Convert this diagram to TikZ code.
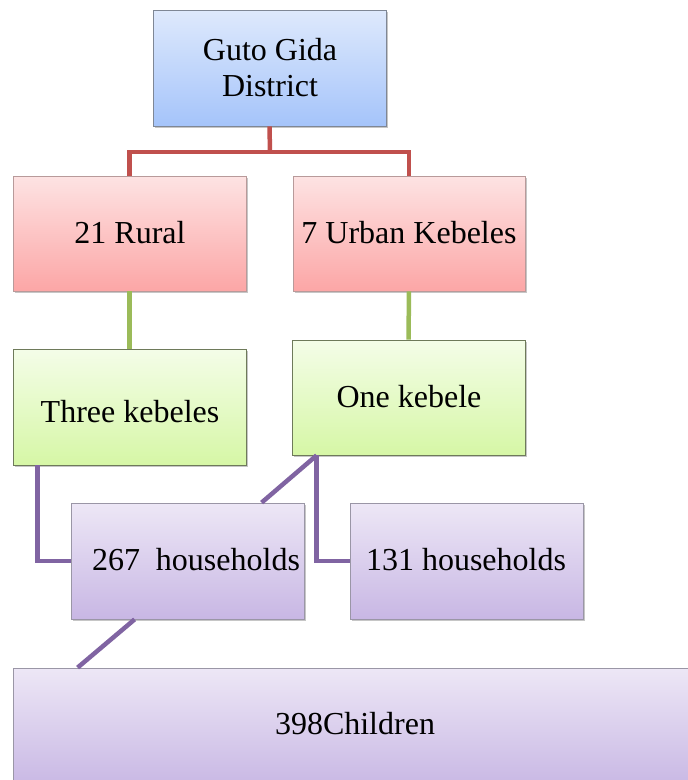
\documentclass[tikz,border=0pt]{standalone}
\usepackage{fontspec}
\setmainfont{Liberation Serif}
\usetikzlibrary{shadows}
\definecolor{blueT}{HTML}{DEE9FC}
\definecolor{blueB}{HTML}{A5C4FA}
\definecolor{blueD}{HTML}{7F8795}
\definecolor{pinkT}{HTML}{FDE3E3}
\definecolor{pinkB}{HTML}{FCA6A6}
\definecolor{pinkD}{HTML}{B89A9A}
\definecolor{greenT}{HTML}{F4FDE8}
\definecolor{greenB}{HTML}{D6F7A6}
\definecolor{greenD}{HTML}{6E7A5A}
\definecolor{purpT}{HTML}{EDE7F6}
\definecolor{purpB}{HTML}{C8B7E4}
\definecolor{purpD}{HTML}{9A96A6}
\definecolor{lnRed}{HTML}{C0504D}
\definecolor{lnGreen}{HTML}{9BBB59}
\definecolor{lnPurp}{HTML}{8064A2}
\tikzset{
  box/.style={rectangle, inner sep=0pt, line width=0.8pt, align=center,
    font=\fontsize{32}{36}\selectfont,
    drop shadow={shadow xshift=1.5pt, shadow yshift=-1.5pt, opacity=0.45, fill=gray}},
  bluebox/.style={box, draw=blueD, top color=blueT, bottom color=blueB},
  pinkbox/.style={box, draw=pinkD, top color=pinkT, bottom color=pinkB},
  greenbox/.style={box, draw=greenD, top color=greenT, bottom color=greenB},
  purpbox/.style={box, draw=purpD, top color=purpT, bottom color=purpB},
  lab/.style={font=\fontsize{32}{36}\selectfont, align=center, inner sep=0pt},
  conn/.style={line width=4.5pt},
}
\begin{document}
\begin{tikzpicture}[x=1pt,y=-1pt]
\useasboundingbox (0,0) rectangle (688,780);
% boxes
\node[bluebox, minimum width=233pt, minimum height=116pt] (top) at (269.5,68) {};
\node[lab] at (270,68) {Guto Gida\\District};
\node[pinkbox, minimum width=233pt, minimum height=115pt] (rural) at (129.5,233.5) {};
\node[lab] at (130,233) {21 Rural};
\node[pinkbox, minimum width=232pt, minimum height=115pt] (urban) at (409,233.5) {};
\node[lab] at (409,233) {7 Urban Kebeles};
\node[greenbox, minimum width=233pt, minimum height=116pt] (three) at (129.5,407) {};
\node[lab] at (130,412) {Three kebeles};
\node[greenbox, minimum width=233pt, minimum height=115pt] (one) at (408.5,397.5) {};
\node[lab] at (409,397) {One kebele};
\node[purpbox, minimum width=233pt, minimum height=116pt] (h267) at (187.5,561) {};
\node[lab] at (196,560) {267\ \ households};
\node[purpbox, minimum width=233pt, minimum height=116pt] (h131) at (466.5,561) {};
\node[lab] at (466,560) {131 households};
\node[purpbox, minimum width=690pt, minimum height=120pt] (kids) at (358,728) {};
\node[lab] at (355,724) {398Children};
% connectors
\coordinate (rj) at (270,152);
\draw[conn, lnRed] (top.south) -- (rj);
\draw[conn, lnRed, line join=miter] (rural.north) |- (rj) -| (urban.north);
\draw[conn, lnGreen] (rural.south) -- (three.north);
\draw[conn, lnGreen] (urban.south) -- (one.north);
\coordinate (tk) at ([xshift=25pt]three.south west);
\coordinate (ok) at ([xshift=25pt]one.south west);
\coordinate (h267in) at ([xshift=191pt]h267.north west);
\coordinate (h267out) at ([xshift=64pt]h267.south west);
\coordinate (kidsin) at ([xshift=65pt]kids.north west);
\draw[conn, lnPurp] (tk) |- (h267.west);
\draw[conn, lnPurp] (ok) -- (h267in);
\draw[conn, lnPurp] (ok) |- (h131.west);
\draw[conn, lnPurp] (h267out) -- (kidsin);
\end{tikzpicture}
\end{document}
